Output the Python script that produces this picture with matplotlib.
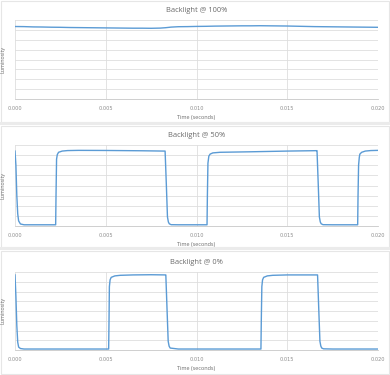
import matplotlib
matplotlib.use("Agg")
import matplotlib.pyplot as plt
from matplotlib.patches import Rectangle

plt.rcParams['font.family'] = ['Open Sans', 'DejaVu Sans']

# time axis ticks (seconds)
xticks = [0.0, 0.005, 0.010, 0.015, 0.020]
xtick_labels = ["0.000", "0.005", "0.010", "0.015", "0.020"]

# Backlight @ 100% : nearly flat
t100 = [0.0, 0.0005, 0.001, 0.0015, 0.002, 0.0025, 0.003, 0.0035, 0.004, 0.0045,
        0.005, 0.0055, 0.006, 0.0065, 0.007, 0.0075, 0.008, 0.0083, 0.0086, 0.009,
        0.0095, 0.010, 0.0105, 0.011, 0.0115, 0.012, 0.0125, 0.013, 0.0135, 0.014,
        0.0145, 0.015, 0.0155, 0.016, 0.0165, 0.017, 0.0175, 0.018, 0.0185, 0.019,
        0.0195, 0.020]
y100 = [7.34, 7.33, 7.30, 7.29, 7.27, 7.26, 7.24, 7.23, 7.22, 7.21,
        7.20, 7.19, 7.18, 7.17, 7.17, 7.16, 7.18, 7.22, 7.28, 7.32,
        7.33, 7.35, 7.36, 7.38, 7.39, 7.40, 7.41, 7.41, 7.42, 7.41,
        7.40, 7.39, 7.37, 7.35, 7.33, 7.32, 7.31, 7.30, 7.29, 7.28,
        7.27, 7.26]

# Backlight @ 50% : PWM, high ~7.45, low ~0.12
t50 = [0.0, 0.00005, 0.0001, 0.00015, 0.0002, 0.0003, 0.0005,
       0.00224, 0.00226, 0.00229, 0.00233, 0.0024, 0.0026, 0.0029, 0.0035,
       0.005, 0.007, 0.0082, 0.00827, 0.00834, 0.0084, 0.00845, 0.0085, 0.0086, 0.009,
       0.0105, 0.01058, 0.0106, 0.01063, 0.01068, 0.01075, 0.0109, 0.0113, 0.013,
       0.015, 0.0166, 0.01664, 0.01671, 0.01677, 0.01682, 0.01687, 0.01697, 0.0175,
       0.01888, 0.0189, 0.01893, 0.01897, 0.0190, 0.0191, 0.0193, 0.0196, 0.020]
y50 = [7.40, 6.0, 3.0, 1.2, 0.5, 0.20, 0.12,
       0.12, 3.0, 6.6, 7.05, 7.28, 7.40, 7.45, 7.47,
       7.46, 7.43, 7.40, 7.40, 4.0, 0.9, 0.4, 0.22, 0.13, 0.12,
       0.12, 0.12, 3.0, 6.2, 6.9, 7.1, 7.22, 7.28, 7.33,
       7.40, 7.44, 7.44, 4.0, 0.9, 0.4, 0.22, 0.13, 0.12,
       0.12, 3.0, 6.0, 6.8, 7.1, 7.28, 7.40, 7.45, 7.47]

# Backlight @ 0% : PWM, high ~7.7, low ~0.1
t0 = [0.0, 0.00005, 0.0001, 0.00015, 0.0002, 0.0003, 0.0005,
      0.00516, 0.00518, 0.0052, 0.00524, 0.0053, 0.0055, 0.0058, 0.0065,
      0.0075, 0.0083, 0.00831, 0.00838, 0.00844, 0.00849, 0.00855, 0.009,
      0.01355, 0.01357, 0.0136, 0.01364, 0.0137, 0.0139, 0.0142, 0.015,
      0.0166, 0.01667, 0.01674, 0.0168, 0.01685, 0.0169, 0.0170, 0.0175, 0.020]
y0 = [7.70, 5.5, 2.5, 0.8, 0.3, 0.15, 0.10,
      0.10, 3.0, 6.5, 7.2, 7.45, 7.60, 7.66, 7.70,
      7.72, 7.70, 7.70, 4.0, 0.9, 0.4, 0.2, 0.10,
      0.10, 3.0, 6.5, 7.2, 7.45, 7.60, 7.66, 7.70,
      7.70, 7.70, 4.0, 0.9, 0.4, 0.2, 0.12, 0.10, 0.10]

titles = ["Backlight @ 100%", "Backlight @ 50%", "Backlight @ 0%"]
series = [(t100, y100), (t50, y50), (t0, y0)]

W, H = 390, 375
fig = plt.figure(figsize=(W / 100, H / 100), dpi=100)
fig.patch.set_facecolor("white")

# card boxes (pixel coords from top: y0, y1) and axes boxes
cards = [(1, 122), (126, 247), (251, 374)]
axboxes = [(20, 99), (145, 226), (272, 350)]

for (c0, c1) in cards:
    fig.patches.append(Rectangle((1 / W, 1 - c1 / H), (W - 2) / W, (c1 - c0) / H,
                                 transform=fig.transFigure, facecolor="white",
                                 edgecolor="#e6e6e6", linewidth=0.8, zorder=-5))
# separators
for ys in (123.5, 248.5):
    fig.patches.append(Rectangle((0, 1 - (ys + 1.5) / H), 1, 3 / H,
                                 transform=fig.transFigure, facecolor="#ebebeb",
                                 edgecolor="none", zorder=-5))

for (top, bot), title, (t, y) in zip(axboxes, titles, series):
    ax = fig.add_axes([15 / W, 1 - bot / H, 363 / W, (bot - top) / H])
    ax.set_zorder(2)
    ax.patch.set_alpha(0)
    ax.plot(t, y, color="#5b9bd5", linewidth=1.0)
    ax.set_xlim(0, 0.020)
    ax.set_ylim(0, 8)
    ax.set_xticks(xticks)
    ax.set_xticklabels(xtick_labels, family="DejaVu Sans")
    ax.set_yticks(range(0, 9))
    ax.set_yticklabels([])
    ax.grid(True, color="#dedede", linewidth=0.6)
    ax.set_axisbelow(True)
    for s in ("top", "right", "left"):
        ax.spines[s].set_visible(False)
    ax.spines["bottom"].set_color("#c8c8c8")
    ax.spines["bottom"].set_linewidth(0.6)
    ax.tick_params(axis="both", length=0, labelsize=3.6, colors="#8c8c8c", pad=5)
    ax.set_title(title, fontsize=5.4, color="#6b6b6b", pad=6)
    ax.set_xlabel("Time (seconds)", fontsize=4.0, color="#6b6b6b", labelpad=3)
    ax.set_ylabel("Luminosity", fontsize=3.8, color="#6b6b6b", labelpad=2)

fig.savefig("out.png", dpi=100)
